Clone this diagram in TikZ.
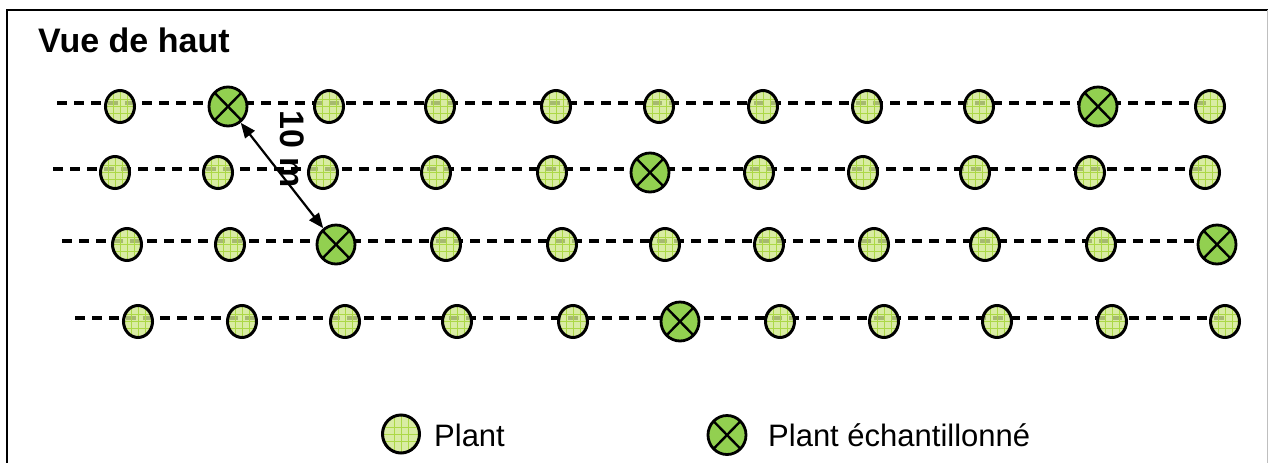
\documentclass[tikz,border=0pt]{standalone}
\usepackage{fontspec}
\setmainfont{Liberation Sans}
\usetikzlibrary{shapes.geometric,arrows.meta}
\pgfdeclarelayer{paper}
\pgfdeclarelayer{background}
\pgfsetlayers{paper,background,main}

\definecolor{leaf}{RGB}{146,208,80}
\definecolor{leaflight}{RGB}{208,232,140}
\definecolor{leafgrid}{RGB}{172,216,70}

\tikzset{
  plant/.style={ellipse, draw=black, line width=3pt, fill=leaflight,
    fill opacity=0.8, minimum width=29pt, minimum height=32pt, inner sep=0pt,
    path picture={
      \foreach \d in {-7,0,7}{
        \draw[leafgrid, line width=0.8pt, draw opacity=1]
          ([xshift=\d pt]path picture bounding box.north) --
          ([xshift=\d pt]path picture bounding box.south)
          ([yshift=\d pt]path picture bounding box.west) --
          ([yshift=\d pt]path picture bounding box.east);
      }}},
  bigplant/.style={plant, minimum width=37pt, minimum height=38pt},
  sampled/.style={ellipse, draw=black, line width=2.8pt, fill=leaf,
    minimum width=38pt, minimum height=39pt, inner sep=0pt,
    path picture={
      \draw[line width=2.4pt]
        (path picture bounding box.north west) -- (path picture bounding box.south east)
        (path picture bounding box.north east) -- (path picture bounding box.south west);}},
  rowline/.style={line width=3.6pt, dash pattern=on 10pt off 7pt},
  title/.style={font=\fontsize{34}{40}\selectfont\bfseries, inner sep=0pt},
  legendtext/.style={font=\fontsize{31}{37}\selectfont, inner sep=0pt},
  measure/.style={line width=2.2pt, {Triangle[length=15pt,width=12pt]}-{Triangle[length=15pt,width=12pt]}}
}

\begin{document}
\begin{tikzpicture}[x=1pt,y=-1pt]
  \useasboundingbox (0,0) rectangle (1269,463);
  \begin{pgfonlayer}{paper}
    \fill[white] (0,0) rectangle (1269,463);
  \end{pgfonlayer}

  % frame
  \draw[line width=2.4pt] (7,475) -- (7,10) -- (1268,10);
  \draw[gray!50, line width=1pt] (1267.5,10) -- (1267.5,475);

  \node[title, anchor=base west] (title) at (38,52) {Vue de haut};

  % row 1
  \coordinate (r1s) at (57,103);
  \foreach \x [count=\i] in {120,228,329,440,556,659,763,867,979,1098,1210}{
    \ifnum\i=2 \node[sampled] (r1-\i) at (\x,106.5) {};
    \else\ifnum\i=10 \node[sampled] (r1-\i) at (\x,106.5) {};
    \else \node[plant] (r1-\i) at (\x,106.5) {};\fi\fi
  }
  % row 2
  \coordinate (r2s) at (53,169);
  \foreach \x [count=\i] in {115,218,323,436,552,650,759,863,975,1090,1205}{
    \ifnum\i=6 \node[sampled] (r2-\i) at (\x,172.5) {};
    \else \node[plant] (r2-\i) at (\x,172.5) {};\fi
  }
  % row 3
  \coordinate (r3s) at (62,241);
  \foreach \x [count=\i] in {127,230,336,446,562,665,769,874,985,1101,1217}{
    \ifnum\i=3 \node[sampled] (r3-\i) at (\x,244.5) {};
    \else\ifnum\i=11 \node[sampled] (r3-\i) at (\x,244.5) {};
    \else \node[plant] (r3-\i) at (\x,244.5) {};\fi\fi
  }
  % row 4
  \coordinate (r4s) at (75,318);
  \foreach \x [count=\i] in {138,242,345,457,573,680,780,884,997,1112,1225}{
    \ifnum\i=6 \node[sampled] (r4-\i) at (\x,321.5) {};
    \else \node[plant] (r4-\i) at (\x,321.5) {};\fi
  }

  \begin{pgfonlayer}{background}
    \draw[rowline] (r1s) -- (r1s -| r1-11.center);
    \draw[rowline] (r2s) -- (r2s -| r2-11.center);
    \draw[rowline] (r3s) -- (r3s -| r3-11.center);
    \draw[rowline] (r4s) -- (r4s -| r4-11.center);
  \end{pgfonlayer}

  % distance between two sampled plants
  \draw[measure] (r1-2) -- (r3-3);
  \node[title, rotate=-90] (dist) at (292,149) {10 m};

  % legend
  \node[bigplant] (lp) at (401,434) {};
  \node[legendtext, anchor=base west] (lpt) at (434,446) {Plant};
  \node[sampled] (ls) at (727,435) {};
  \node[legendtext, anchor=base west] (lst) at (768,446) {Plant échantillonné};
\end{tikzpicture}
\end{document}
